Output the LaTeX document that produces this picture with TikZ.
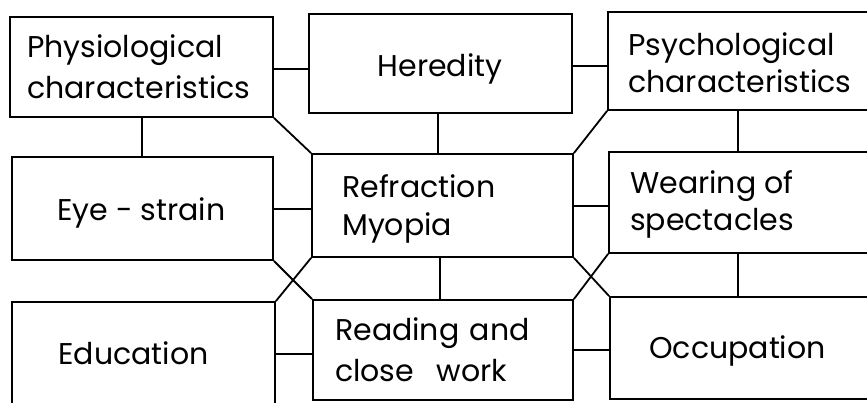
\documentclass[tikz,border=0pt]{standalone}
\usepackage{fontspec}
\setmainfont{Poppins}
\begin{document}
\begin{tikzpicture}[x=1pt,y=-1pt,
  box/.style={draw, line width=1.8pt, inner sep=0pt},
  link/.style={line width=1.8pt},
  txt/.style={font=\fontsize{30}{39}\selectfont, align=left, inner sep=0pt, anchor=base west},
  ctxt/.style={font=\fontsize{30}{39}\selectfont, inner sep=0pt, anchor=base}]
\useasboundingbox (0,0) rectangle (867,402);
\clip (0,0) rectangle (867,402);
% boxes
\node[box, minimum width=263pt, minimum height=100pt] (phys)  at (141.5,67) {};
\node[box, minimum width=263pt, minimum height=99pt]  (hered) at (440.5,63.5) {};
\node[box, minimum width=282pt, minimum height=98pt]  (psych) at (749,61) {};
\node[box, minimum width=261pt, minimum height=103pt] (eye)   at (142.5,208.5) {};
\node[box, minimum width=261pt, minimum height=103pt] (refr)  at (442.5,205.5) {};
\node[box, minimum width=281pt, minimum height=101pt] (wear)  at (749.5,202.5) {};
\node[box, minimum width=263pt, minimum height=118pt] (educ)  at (143.5,361) {};
\node[box, minimum width=260pt, minimum height=100pt] (read)  at (443,350) {};
\node[box, minimum width=280pt, minimum height=102pt] (occ)   at (750,348) {};
% texts (base anchor = baseline of last line)
\node[txt, font=\fontsize{30}{41}\selectfont] (physT) at (27,98) {Physiological\\characteristics};
\node[ctxt] (heredT) at (440,76) {Heredity};
\node[txt, font=\fontsize{30}{37}\selectfont] (psychT) at (628,92) {Psychological\\characteristics};
\node[ctxt] (eyeT) at (141.5,220) {Eye - strain};
\node[txt, font=\fontsize{30}{38}\selectfont] (refrT) at (342,235) {Refraction\\Myopia};
\node[txt, font=\fontsize{30}{37}\selectfont] (wearT) at (630,230) {Wearing of\\spectacles};
\node[ctxt] (educT) at (133.5,364) {Education};
\node[txt, font=\fontsize{30}{41}\selectfont] (readT) at (335,381) {Reading\hspace{0.35em}and\\close\hspace{0.75em}work};
\node[ctxt] (occT) at (737.5,358) {Occupation};
% straight connectors
\draw[link] (phys.east |- 0,69) -- (hered.west |- 0,69);
\draw[link] (hered.east |- 0,66) -- (psych.west |- 0,66);
\draw[link] (phys.south -| 142,0) -- (eye.north -| 142,0);
\draw[link] (hered.south -| 438,0) -- (refr.north -| 438,0);
\draw[link] (psych.south -| 738,0) -- (wear.north -| 738,0);
\draw[link] (eye.east |- 0,209) -- (refr.west |- 0,209);
\draw[link] (refr.east |- 0,206) -- (wear.west |- 0,206);
\draw[link] (wear.south -| 738,0) -- (occ.north -| 738,0);
\draw[link] (refr.south -| 440,0) -- (read.north -| 440,0);
\draw[link] (educ.east |- 0,354) -- (read.west |- 0,354);
\draw[link] (read.east |- 0,350) -- (occ.west |- 0,350);
% diagonal connectors
\draw[link] (phys.south east) -- (refr.north west);
\draw[link] (psych.south west) -- (refr.north east);
\draw[link] (eye.south east) -- (read.north west);
\draw[link] (educ.north east) -- (refr.south west);
\draw[link] (refr.south east) -- (occ.north west);
\draw[link] (read.north east) -- (wear.south west);
\end{tikzpicture}
\end{document}
